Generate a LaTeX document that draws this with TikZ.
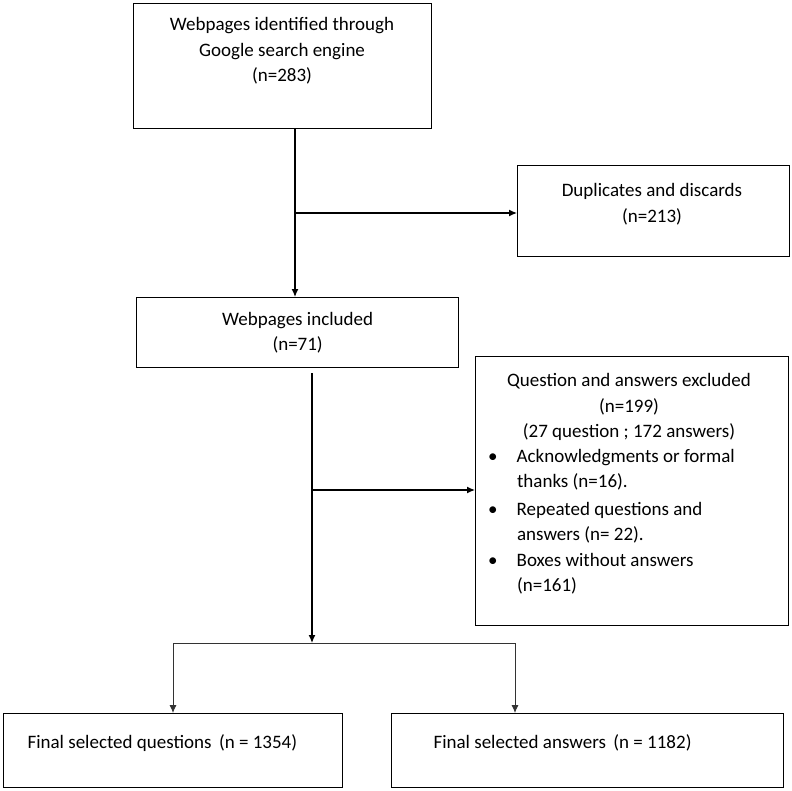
\documentclass[tikz,border=0pt]{standalone}
\usepackage{fontspec}
\setmainfont{Carlito}
\usetikzlibrary{arrows.meta}
\begin{document}
\begin{tikzpicture}[x=1pt,y=-1pt,
  txt/.style={font=\fontsize{19}{25.5}\selectfont},
  box/.style={draw,line width=1.3pt,align=center,txt,inner sep=0pt},
  arr/.style={line width=1.3pt,-{Latex[length=8pt,width=7pt]}},
  tarr/.style={line width=0.9pt,draw=black!80,-{Latex[length=8pt,width=7pt]}}]
\useasboundingbox (0,0) rectangle (792,790);
\node[box,minimum width=298pt,minimum height=125pt,anchor=north west] (top) at (133,3) {};
\node[txt,anchor=north,align=center] (topt) at (282,14)
  {Webpages identified through\\Google search engine\\(n=283)};
\node[box,minimum width=272pt,minimum height=91pt,anchor=north west] (dup) at (517,165) {};
\node[txt,anchor=north,align=center] (dupt) at (652,180) {Duplicates and discards\\(n=213)};
\node[box,minimum width=322pt,minimum height=70pt,anchor=north west] (inc) at (136,297)
  {Webpages included\\(n=71)};
\node[box,minimum width=313pt,minimum height=269pt,anchor=north west] (exc) at (475,356) {};
\node[txt,anchor=north,align=center] (exct) at (629,370)
  {Question and answers excluded\\(n=199)\\(27 question ; 172 answers)};
\node[txt,anchor=north west,align=left,inner sep=0pt] (excl) at (488,449)
  {\textbullet\hspace{1.0em}Acknowledgments or formal\\\hspace{1.52em}thanks (n=16).\\[2pt]
   \textbullet\hspace{1.0em}Repeated questions and\\\hspace{1.52em}answers (n= 22).\\[0pt]
   \textbullet\hspace{1.0em}Boxes without answers\\\hspace{1.52em}(n=161)};
\node[box,minimum width=339pt,minimum height=74pt,anchor=north west] (fq) at (3,713) {};
\node[txt,anchor=west] (fqt) at (24,743) {Final selected questions\ \,(n = 1354)};
\node[box,minimum width=392pt,minimum height=74pt,anchor=north west] (fa) at (391,713) {};
\node[txt,anchor=west] (fat) at (430,743) {Final selected answers\ \,(n = 1182)};
\draw[arr] (top.south -| 295,0) -- (inc.north -| 295,0);
\draw[arr] (295,213) -- (dup.west |- 0,213);
\coordinate (split) at (312,643);
\draw[arr] (312,373) -- (split);
\draw[arr] (312,490) -- (exc.west |- 0,490);
\draw[line width=0.9pt,draw=black!80] (173,643) -- (515,643);
\draw[tarr] (173,643) -- (fq.north -| 173,0);
\draw[tarr] (515,643) -- (fa.north -| 515,0);
\end{tikzpicture}
\end{document}
